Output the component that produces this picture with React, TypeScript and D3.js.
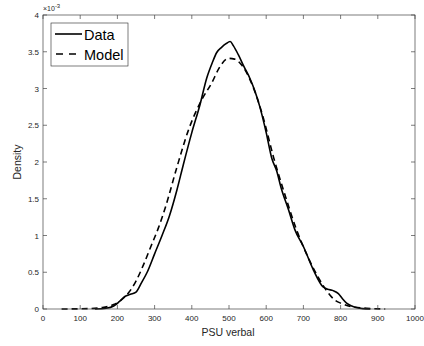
import React from "react";
import * as d3 from "d3";

const xTicks = [0, 100, 200, 300, 400, 500, 600, 700, 800, 900, 1000];
const yTicks = [0, 0.5, 1, 1.5, 2, 2.5, 3, 3.5, 4];
const yTickLabels = ["0", "0.5", "1", "1.5", "2", "2.5", "3", "3.5", "4"];

const dataX = [140, 170, 190, 205, 220, 235, 250, 265, 280, 300, 320, 340, 360, 377, 400, 422, 440, 455, 467, 480, 492, 503, 512, 525, 540, 556, 570, 583, 600, 615, 628, 640, 660, 677, 700, 727, 753, 765, 780, 794, 805, 816, 830, 843, 860, 880];
const dataY = [0, 0.01, 0.04, 0.1, 0.17, 0.2, 0.23, 0.36, 0.5, 0.75, 1.0, 1.27, 1.62, 1.96, 2.4, 2.78, 3.14, 3.35, 3.49, 3.56, 3.61, 3.64, 3.58, 3.46, 3.3, 3.14, 2.96, 2.75, 2.4, 2.05, 1.88, 1.65, 1.35, 1.08, 0.85, 0.53, 0.3, 0.27, 0.25, 0.21, 0.14, 0.08, 0.04, 0.02, 0.005, 0];

const modelX = [50, 120, 160, 190, 210, 230, 250, 270, 290, 310, 330, 360, 390, 427, 453, 476, 498, 515, 534, 560, 590, 620, 650, 680, 710, 740, 758, 785, 800, 830, 870, 920];
const modelY = [0, 0.005, 0.02, 0.06, 0.12, 0.22, 0.38, 0.6, 0.85, 1.1, 1.4, 1.93, 2.42, 2.85, 3.07, 3.3, 3.41, 3.4, 3.32, 3.08, 2.64, 2.06, 1.56, 1.1, 0.73, 0.43, 0.28, 0.12, 0.08, 0.03, 0.01, 0];

const W = 424, H = 346;
const L = 43, R = 415, T = 15, B = 309;
const axisColor = "#262626";
const frameColor = "#444";
const font = "Liberation Sans, Arial, sans-serif";

export default function App() {
  const x = d3.scaleLinear().domain([0, 1000]).range([L, R]);
  const y = d3.scaleLinear().domain([0, 4]).range([B, T]);
  const line = d3
    .line<[number, number]>()
    .x((d) => x(d[0]))
    .y((d) => y(d[1]))
    .curve(d3.curveMonotoneX);
  const dataPts = dataX.map((v, i) => [v, dataY[i]] as [number, number]);
  const modelPts = modelX.map((v, i) => [v, modelY[i]] as [number, number]);
  const tl = 4;
  return (
    <svg width={W} height={H} style={{ position: "absolute", left: 0, top: 0, background: "#fff" }}>
      <rect x={0} y={0} width={W} height={H} fill="#fff" />
      <path d={line(modelPts) || ""} fill="none" stroke="#000" strokeWidth={1.6} strokeDasharray="6 4" />
      <path d={line(dataPts) || ""} fill="none" stroke="#000" strokeWidth={1.6} />
      <rect x={L} y={T} width={R - L} height={B - T} fill="none" stroke={frameColor} strokeWidth={0.7} />
      {xTicks.map((t) => (
        <g key={"x" + t}>
          <line x1={x(t)} x2={x(t)} y1={B} y2={B - tl} stroke={frameColor} strokeWidth={0.7} />
          <line x1={x(t)} x2={x(t)} y1={T} y2={T + tl} stroke={frameColor} strokeWidth={0.7} />
          <text x={x(t)} y={321} fontSize={8} fontFamily={font} fill={axisColor} textAnchor="middle">
            {t}
          </text>
        </g>
      ))}
      {yTicks.map((t, i) => (
        <g key={"y" + t}>
          <line x1={L} x2={L + tl} y1={y(t)} y2={y(t)} stroke={frameColor} strokeWidth={0.7} />
          <line x1={R} x2={R - tl} y1={y(t)} y2={y(t)} stroke={frameColor} strokeWidth={0.7} />
          <text x={39} y={y(t) + 3} fontSize={8} fontFamily={font} fill={axisColor} textAnchor="end">
            {yTickLabels[i]}
          </text>
        </g>
      ))}
      <text x={L} y={11} fontSize={7} fontFamily={font} fill={axisColor}>
        ×10<tspan dy={-3} fontSize={6}>-3</tspan>
      </text>
      <text x={228} y={336} fontSize={10.5} fontFamily={font} fill={axisColor} textAnchor="middle">
        PSU verbal
      </text>
      <text transform={`translate(21,${(T + B) / 2}) rotate(-90)`} fontSize={10.5} fontFamily={font} fill={axisColor} textAnchor="middle">
        Density
      </text>
      <rect x={51} y={23} width={77} height={43} fill="#fff" stroke={axisColor} strokeWidth={0.6} />
      <line x1={55} x2={82} y1={34} y2={34} stroke="#000" strokeWidth={1.6} />
      <line x1={55} x2={82} y1={54} y2={54} stroke="#000" strokeWidth={1.6} strokeDasharray="7 6" strokeDashoffset={-1} />
      <text x={84} y={40} fontSize={14.5} fontFamily={font} fill="#000">
        Data
      </text>
      <text x={84} y={60} fontSize={14.5} fontFamily={font} fill="#000">
        Model
      </text>
    </svg>
  );
}
